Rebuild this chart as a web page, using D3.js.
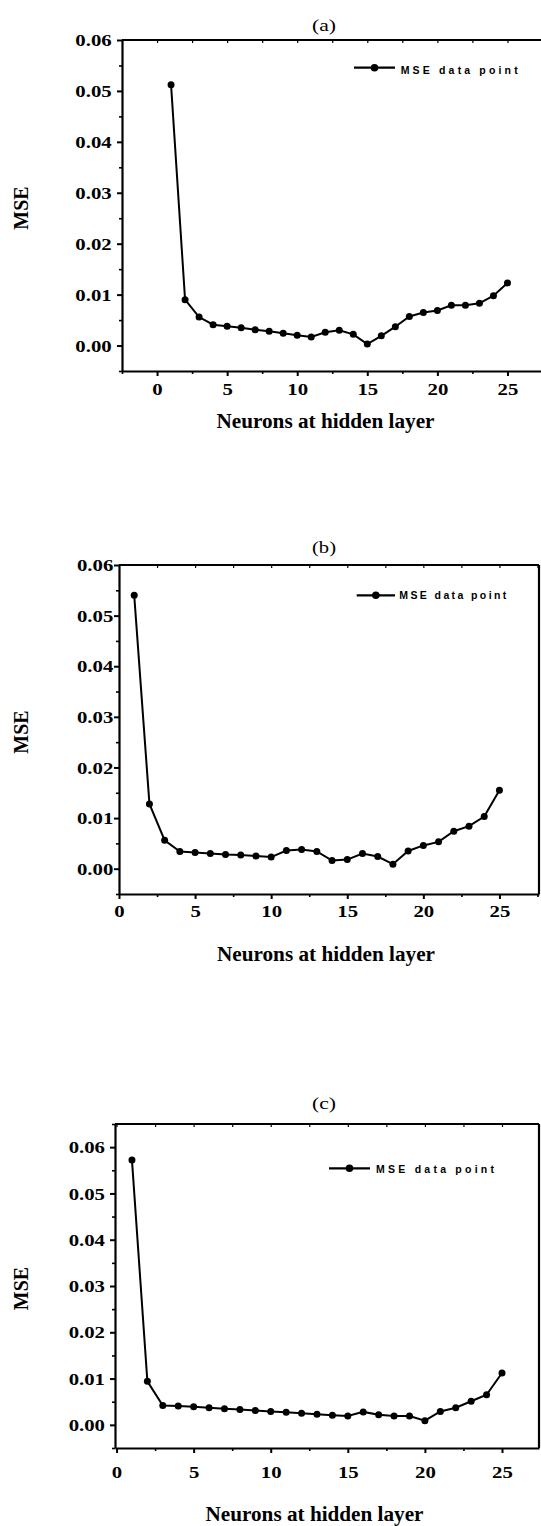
<!DOCTYPE html>
<html>
<head>
<meta charset="utf-8">
<script src="https://cdn.jsdelivr.net/npm/d3@7"></script>
<style>
  html, body { margin: 0; padding: 0; background: #fff; }
  svg { display: block; }
</style>
</head>
<body>
<svg id="chart" width="541" height="1526"></svg>
<script>
// Number of neurons in the hidden layer (x values)
const neurons = [1, 2, 3, 4, 5, 6, 7, 8, 9, 10, 11, 12, 13, 14, 15, 16, 17, 18, 19, 20, 21, 22, 23, 24, 25];

// Mean squared error for each network size, one series per panel
const mseA = [0.0512, 0.0090, 0.0056, 0.0041, 0.0038, 0.0035, 0.0031, 0.0028, 0.0024, 0.0020,
              0.0017, 0.0026, 0.0030, 0.0022, 0.0003, 0.0019, 0.0037, 0.0057, 0.0065, 0.0069,
              0.0079, 0.0079, 0.0083, 0.0098, 0.0123];
const mseB = [0.0540, 0.0128, 0.0056, 0.0034, 0.0032, 0.0030, 0.0028, 0.0027, 0.0025, 0.0023,
              0.0036, 0.0038, 0.0034, 0.0016, 0.0018, 0.0030, 0.0024, 0.0009, 0.0035, 0.0046,
              0.0053, 0.0074, 0.0084, 0.0103, 0.0155];
const mseC = [0.0572, 0.0094, 0.0042, 0.0041, 0.0039, 0.0037, 0.0035, 0.0033, 0.0031, 0.0029,
              0.0027, 0.0025, 0.0023, 0.0021, 0.0019, 0.0028, 0.0022, 0.0019, 0.0019, 0.0009,
              0.0029, 0.0037, 0.0051, 0.0065, 0.0112];

// Tick labels
const xTickValues = [0, 5, 10, 15, 20, 25];
const xMinorTickValues = [-2.5, 2.5, 7.5, 12.5, 17.5, 22.5, 27.5];
const yTickValues = [0.00, 0.01, 0.02, 0.03, 0.04, 0.05, 0.06];
const yMinorTickValues = [-0.005, 0.005, 0.015, 0.025, 0.035, 0.045, 0.055, 0.065];

// Text
const panelLabels = ["(a)", "(b)", "(c)"];
const xAxisTitle = "Neurons at hidden layer";
const yAxisTitle = "MSE";
const legendLabel = "MSE data point";

// Layout of the three stacked panels
const panels = [
  { series: mseA, label: panelLabels[0],
    xDomain: [-2.5, 27.5], xRange: [122, 542.5],
    yDomain: [-0.005, 0.06], yRange: [371, 40],
    titleY: 30.5, xTitleY: 428, xTitleX: 325.5, xLabelY: 395, yLabelRight: 111.7,
    legend: { x1: 354, x2: 395, y: 67.7, tx: 400.7, ty: 74, tw: 117 } },
  { series: mseB, label: panelLabels[1],
    xDomain: [0, 27.6], xRange: [119, 539],
    yDomain: [-0.005, 0.06], yRange: [894, 565],
    titleY: 553, xTitleY: 960.5, xTitleX: 326, xLabelY: 916.7, yLabelRight: 113.3,
    legend: { x1: 356.7, x2: 395, y: 595.3, tx: 399.3, ty: 599.3, tw: 107 } },
  { series: mseC, label: panelLabels[2],
    xDomain: [-0.1, 27.4], xRange: [115, 539],
    yDomain: [-0.005, 0.065], yRange: [1448, 1124],
    titleY: 1108.5, xTitleY: 1521, xTitleX: 314.5, xLabelY: 1478.3, yLabelRight: 105,
    legend: { x1: 329, x2: 370, y: 1168.3, tx: 376, ty: 1172.7, tw: 118 } }
];

const serif = "'Liberation Serif', 'Times New Roman', Times, serif";
const sans = "'Liberation Sans', Arial, Helvetica, sans-serif";
const svg = d3.select("#chart");

// Widen glyphs horizontally (the figure's fonts render wide)
function stretch(sel, factor) {
  sel.each(function () {
    const w = this.getComputedTextLength();
    d3.select(this).attr("textLength", w * factor).attr("lengthAdjust", "spacingAndGlyphs");
  });
}

panels.forEach(p => {
  const x = d3.scaleLinear().domain(p.xDomain).range(p.xRange);
  const y = d3.scaleLinear().domain(p.yDomain).range(p.yRange);
  const g = svg.append("g");
  const left = p.xRange[0], right = p.xRange[1], top = p.yRange[1], bottom = p.yRange[0];

  // Minor ticks
  g.append("g").attr("transform", `translate(${left},0)`)
    .call(d3.axisLeft(y).tickValues(yMinorTickValues.filter(v => v >= p.yDomain[0] && v <= p.yDomain[1]))
      .tickSize(3).tickFormat(""))
    .call(a => a.select(".domain").remove())
    .call(a => a.selectAll("line").attr("stroke-width", 1.6));
  g.append("g").attr("transform", `translate(0,${bottom})`)
    .call(d3.axisBottom(x).tickValues(xMinorTickValues.filter(v => v >= p.xDomain[0] && v <= p.xDomain[1]))
      .tickSize(3).tickFormat(""))
    .call(a => a.select(".domain").remove())
    .call(a => a.selectAll("line").attr("stroke-width", 1.6));
  // Inward ticks along the top border
  g.append("g").attr("transform", `translate(0,${top})`)
    .call(d3.axisBottom(x)
      .tickValues(xTickValues.concat(xMinorTickValues).filter(v => v > p.xDomain[0] && v < p.xDomain[1]))
      .tickSize(3).tickFormat(""))
    .call(a => a.select(".domain").remove())
    .call(a => a.selectAll("line").attr("stroke-width", 1.2));

  // Major y axis
  const yAx = g.append("g").attr("transform", `translate(${left},0)`)
    .call(d3.axisLeft(y).tickValues(yTickValues).tickSize(5).tickSizeOuter(0).tickFormat(d3.format(".2f")));
  yAx.select(".domain").attr("stroke-width", 2.2);
  yAx.selectAll(".tick line").attr("stroke-width", 2);
  yAx.selectAll(".tick text")
    .attr("x", p.yLabelRight - left).attr("dy", "0.34em")
    .style("font-family", serif).style("font-weight", "bold").style("font-size", "16.5px").attr("fill", "#000");
  stretch(yAx.selectAll(".tick text"), 1.26);

  // Major x axis
  const xAx = g.append("g").attr("transform", `translate(0,${bottom})`)
    .call(d3.axisBottom(x).tickValues(xTickValues).tickSize(5).tickSizeOuter(0).tickFormat(d3.format("d")));
  xAx.select(".domain").attr("stroke-width", 2.2);
  xAx.selectAll(".tick line").attr("stroke-width", 2);
  xAx.selectAll(".tick text")
    .attr("y", p.xLabelY - bottom).attr("dy", null)
    .style("font-family", serif).style("font-weight", "bold").style("font-size", "16.5px").attr("fill", "#000");
  stretch(xAx.selectAll(".tick text"), 1.26);

  // Top and right borders
  g.append("line").attr("x1", left).attr("x2", right).attr("y1", top).attr("y2", top)
    .attr("stroke", "#000").attr("stroke-width", 2.2);
  g.append("line").attr("x1", right).attr("x2", right).attr("y1", top).attr("y2", bottom)
    .attr("stroke", "#000").attr("stroke-width", 2.2);

  // Series line and markers
  const pts = neurons.map((n, i) => [n, p.series[i]]);
  g.append("path").datum(pts)
    .attr("fill", "none").attr("stroke", "#000").attr("stroke-width", 2)
    .attr("d", d3.line().x(d => x(d[0])).y(d => y(d[1])));
  g.selectAll("circle.pt").data(pts).join("circle").attr("class", "pt")
    .attr("cx", d => x(d[0])).attr("cy", d => y(d[1])).attr("r", 3.5).attr("fill", "#000");

  // Legend
  const L = p.legend;
  g.append("line").attr("x1", L.x1).attr("x2", L.x2).attr("y1", L.y).attr("y2", L.y)
    .attr("stroke", "#000").attr("stroke-width", 2.2);
  g.append("circle").attr("cx", (L.x1 + L.x2) / 2).attr("cy", L.y).attr("r", 3.8).attr("fill", "#000");
  g.append("text").attr("x", L.tx).attr("y", L.ty).text(legendLabel)
    .style("font-family", sans).style("font-weight", "bold").style("font-size", "10.5px")
    .attr("textLength", L.tw).attr("lengthAdjust", "spacing");

  // Panel label
  g.append("text").attr("x", 324).attr("y", p.titleY).attr("text-anchor", "middle")
    .style("font-family", serif).style("font-size", "17px")
    .attr("textLength", 24).attr("lengthAdjust", "spacingAndGlyphs")
    .text(p.label);

  // Axis titles
  g.append("text").attr("x", p.xTitleX).attr("y", p.xTitleY).attr("text-anchor", "middle")
    .style("font-family", serif).style("font-weight", "bold").style("font-size", "20px")
    .attr("textLength", 218).attr("lengthAdjust", "spacingAndGlyphs")
    .text(xAxisTitle);
  g.append("text")
    .attr("transform", `translate(28,${(top + bottom) / 2 + 2.5}) rotate(-90)`)
    .attr("text-anchor", "middle")
    .style("font-family", serif).style("font-weight", "bold").style("font-size", "20px")
    .text(yAxisTitle);
});
</script>
</body>
</html>
